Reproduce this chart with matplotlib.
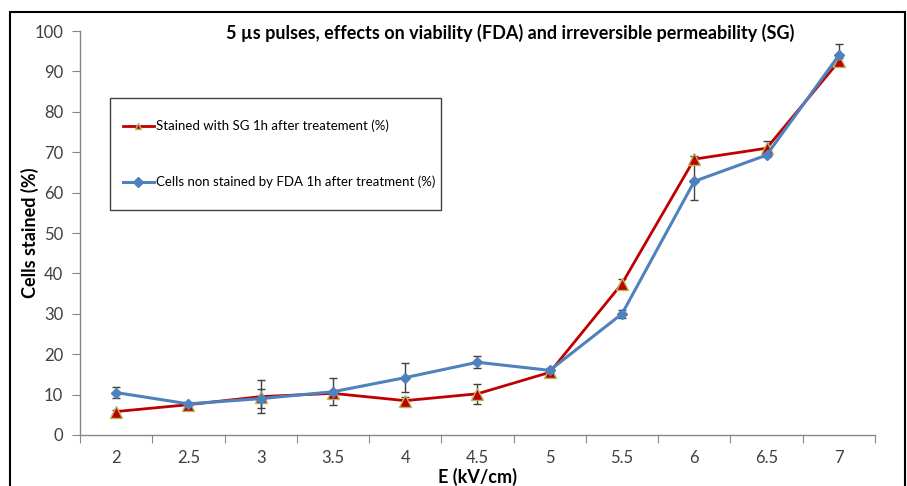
import matplotlib
matplotlib.use("Agg")
import matplotlib.pyplot as plt
from matplotlib.patches import Rectangle
import numpy as np

plt.rcParams['font.family'] = ['Lato', 'DejaVu Sans']

categories = ["2", "2.5", "3", "3.5", "4", "4.5", "5", "5.5", "6", "6.5", "7"]
sg_values = [5.8, 7.5, 9.5, 10.3, 8.5, 10.2, 15.5, 37.5, 68.3, 71.0, 92.5]
sg_errors = [0.5, 0.5, 4.0, 0.5, 0.8, 2.5, 0.5, 1.0, 0.8, 1.8, 0.8]
fda_values = [10.5, 7.7, 9.0, 10.7, 14.2, 18.0, 16.0, 30.0, 62.8, 69.3, 94.0]
fda_errors = [1.4, 0.5, 2.4, 3.3, 3.5, 1.5, 0.5, 1.0, 4.5, 0.5, 2.7]

title = "5 \u00b5s pulses, effects on viability (FDA) and irreversible permeability (SG)"
sg_label = "Stained with SG 1h after treatement (%)"
fda_label = "Cells non stained by FDA 1h after treatment (%)"

W, H = 907, 486
fig = plt.figure(figsize=(9.07, 4.86), dpi=100)
ax = fig.add_axes([0.0882, 0.105, 0.8765, 0.831])

x = np.arange(len(categories))
red = "#C00000"
blue = "#4F81BD"
errc = "#404040"

ax.errorbar(x, sg_values, yerr=sg_errors, fmt='none', ecolor=errc, elinewidth=1.0,
            capsize=3, capthick=1.0, zorder=2)
ax.errorbar(x, fda_values, yerr=fda_errors, fmt='none', ecolor=errc, elinewidth=1.0,
            capsize=3, capthick=1.0, zorder=2)
ax.plot(x, sg_values, color=red, lw=2.0, marker='^', markersize=9,
        markerfacecolor=red, markeredgecolor="#B5B85A", markeredgewidth=1.0,
        label=sg_label, zorder=3)
ax.plot(x, fda_values, color=blue, lw=2.2, marker='D', markersize=5.5,
        markerfacecolor=blue, markeredgecolor=blue, label=fda_label, zorder=4)

ax.set_xlim(-0.5, len(categories) - 0.5)
ax.set_ylim(0, 100)
ax.set_yticks(np.arange(0, 101, 10))
ax.set_xticks(np.arange(-0.5, len(categories), 1.0))
ax.set_xticklabels([])
ax.set_xticks(x, minor=True)
ax.set_xticklabels(categories, minor=True)
ax.tick_params(axis='x', which='minor', length=0, pad=11, labelsize=12, labelcolor="#404040")
ax.tick_params(axis='x', which='major', length=6, color="#868686", direction='out')
ax.tick_params(axis='y', length=6, color="#868686", labelsize=12, labelcolor="#404040", pad=6)

for s in ['top', 'right']:
    ax.spines[s].set_visible(False)
for s in ['left', 'bottom']:
    ax.spines[s].set_color("#868686")
    ax.spines[s].set_linewidth(1.0)

ax.set_ylabel("Cells stained (%)", fontsize=13, fontweight='bold')
ax.yaxis.set_label_coords(-0.052, 0.5)
ax.set_xlabel("E (kV/cm)", fontsize=13, fontweight='bold', labelpad=1)
fig.text(0.562, 0.933, title, fontsize=13, fontweight='bold', ha='center', va='center')

leg = ax.legend(loc='upper left', bbox_to_anchor=(116 / W, 1 - 113 / H),
                bbox_transform=fig.transFigure, frameon=False,
                fontsize=9.5, handlelength=2.4, handletextpad=0.1,
                labelspacing=3.3, borderpad=0.5, borderaxespad=0)
for h in leg.legend_handles:
    h.set_markersize(5)
leg.set_zorder(10)

ax.add_patch(Rectangle((110 / W, 1 - 210 / H), 331 / W, 112 / H,
                       transform=fig.transFigure, fill=True, facecolor='white',
                       edgecolor='#404040', linewidth=1.0, zorder=6, clip_on=False))

fig.add_artist(Rectangle((10 / W, -0.05), 895 / W, 1.05 - 12 / H,
                         transform=fig.transFigure, fill=False, edgecolor='black',
                         linewidth=1.5, clip_on=False))

fig.savefig("out.png", dpi=100)
